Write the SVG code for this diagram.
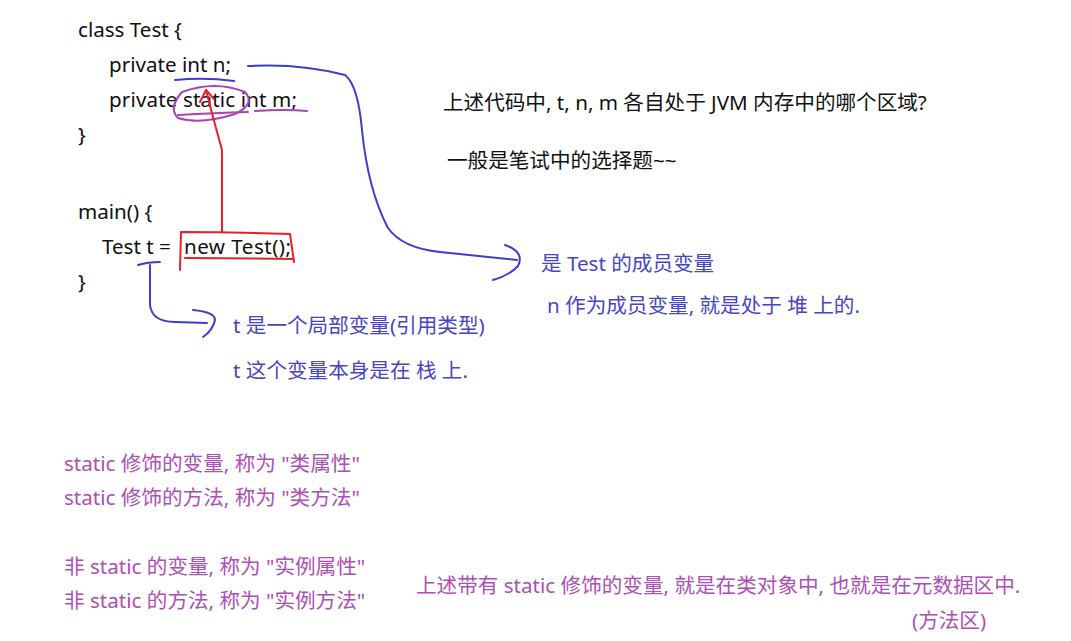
<svg xmlns="http://www.w3.org/2000/svg" width="1071" height="641" viewBox="0 0 1071 641">
<style>
text{font-family:"Noto Sans","Noto Sans CJK SC",sans-serif;font-size:20.6px}
.k{fill:#111}
.b{fill:#4646c4}
.p{fill:#ad4fb4}
.sb{fill:none;stroke:#3c3cd2;stroke-width:2;stroke-linecap:round;stroke-linejoin:round}
.sp{fill:none;stroke:#a844b4;stroke-width:2;stroke-linecap:round;stroke-linejoin:round}
.sr{fill:none;stroke:#e8202c;stroke-width:2;stroke-linecap:round;stroke-linejoin:round}
</style>
<rect width="1071" height="641" fill="#fff"/>
<g id="code">
<text class="k" x="78" y="37">class Test {</text>
<text class="k" x="109" y="72">private int n;</text>
<text class="k" x="109" y="107" textLength="188" lengthAdjust="spacing">private static int m;</text>
<text class="k" x="78" y="142">}</text>
<text class="k" x="78" y="219">main() {</text>
<text class="k" x="102" y="254">Test t =</text>
<text class="k" x="184" y="254" textLength="107" lengthAdjust="spacing">new Test();</text>
<text class="k" x="78" y="289">}</text>
</g>
<g id="question">
<text class="k" x="443" y="110">上述代码中, t, n, m 各自处于 JVM 内存中的哪个区域?</text>
<text class="k" x="447" y="168">一般是笔试中的选择题~~</text>
</g>
<g id="note-n">
<text class="b" x="541" y="271">是 Test 的成员变量</text>
<text class="b" x="547" y="313">n 作为成员变量, 就是处于 堆 上的.</text>
</g>
<g id="note-t">
<text class="b" x="233" y="333">t 是一个局部变量(引用类型)</text>
<text class="b" x="233" y="378">t 这个变量本身是在 栈 上.</text>
</g>
<g id="note-static">
<text class="p" x="64" y="471">static 修饰的变量, 称为 "类属性"</text>
<text class="p" x="64" y="505">static 修饰的方法, 称为 "类方法"</text>
<text class="p" x="64" y="574">非 static 的变量, 称为 "实例属性"</text>
<text class="p" x="64" y="608">非 static 的方法, 称为 "实例方法"</text>
</g>
<g id="note-method-area">
<text class="p" x="416" y="593">上述带有 static 修饰的变量, 就是在类对象中, 也就是在元数据区中.</text>
<text class="p" x="912" y="628">(方法区)</text>
</g>
<g id="connectors">
<path class="sb" d="M175,80 Q205,77 234,81"/>
<path class="sb" d="M248,66 Q300,63 345,75 Q358,85 362,130 Q368,190 388,228 Q402,248 440,252 Q480,256 517,260"/>
<path class="sb" d="M505,245 Q525,252 518,266 Q510,275 493,280"/>
<path class="sp" d="M182,92 Q215,80 245,92 Q256,104 235,114 Q200,125 178,118 Q168,108 182,92"/>
<path class="sp" d="M178,115 Q215,113 248,112 M255,111 Q285,109 307,111"/>
<path class="sr" d="M222,232 L222,150 L213,117 L206,90"/>
<path class="sr" d="M200,102 L206,90 L214,99"/>
<path class="sr" d="M180,270 L181,232 Q235,232 290,234 L294,262 M294,259 Q240,258 185,258"/>
<path class="sb" d="M138,265 Q148,262 160,262"/>
<path class="sb" d="M150,265 L150,305 Q152,322 175,322 L207,323"/>
<path class="sb" d="M193,310 Q215,312 215,320 Q213,330 203,337"/>
</g>
</svg>
